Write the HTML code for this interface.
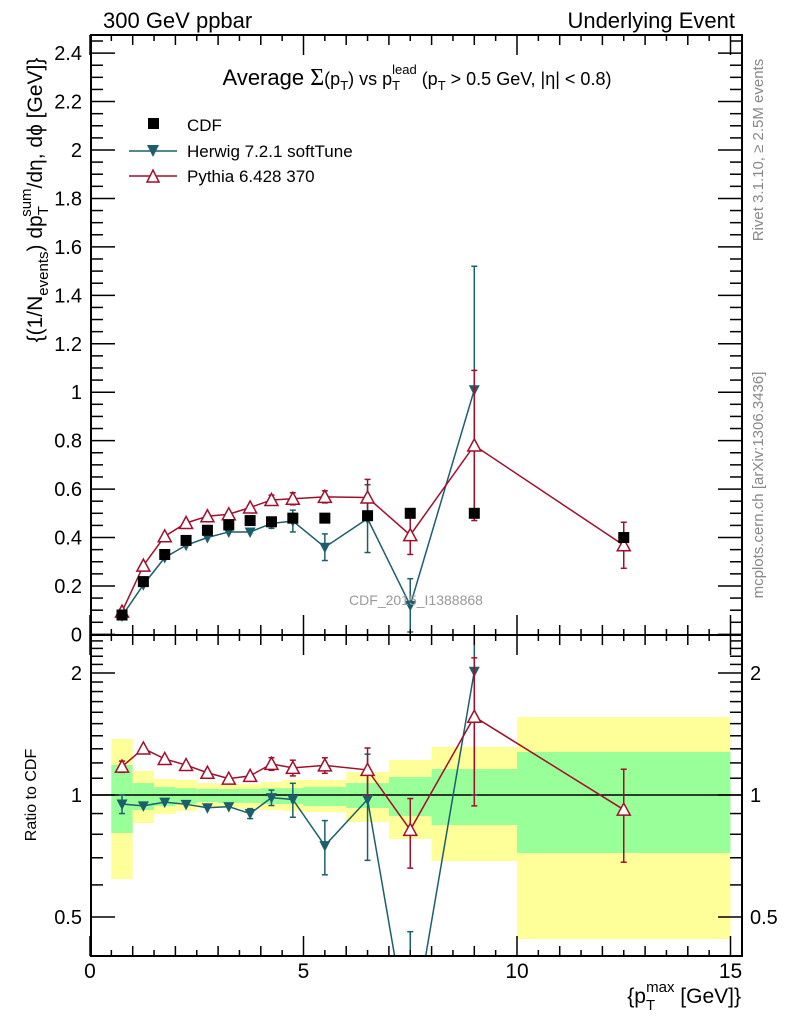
<!DOCTYPE html>
<html><head><meta charset="utf-8"><style>
html,body{margin:0;padding:0;background:#fff;overflow:hidden;width:786px;height:1024px;}
svg{display:block;font-family:"Liberation Sans",sans-serif;}
</style></head><body>
<svg id="chart" width="786" height="1024" viewBox="0 0 786 1024" xmlns="http://www.w3.org/2000/svg">
<g id="bands"></g>
<g id="marks"></g>
<g id="axes"></g>
<text x="103" y="28" font-size="22">300 GeV ppbar</text>
<text x="735" y="28" font-size="22" text-anchor="end">Underlying Event</text>
<text x="417" y="85" font-size="22" text-anchor="middle">Average <tspan font-family="Liberation Serif" font-size="24">Σ</tspan><tspan font-size="18">(p</tspan><tspan font-size="13" dy="5">T</tspan><tspan font-size="18" dy="-5">)</tspan><tspan font-size="18"> vs p</tspan><tspan font-size="13" dy="5">T</tspan><tspan font-size="13" dx="-8" dy="-16">lead</tspan><tspan font-size="18" dy="11"> (p</tspan><tspan font-size="13" dy="5">T</tspan><tspan font-size="18" dy="-5"> &gt; 0.5 GeV, |η| &lt; 0.8)</tspan></text>
<text transform="translate(763,150) rotate(-90)" font-size="15" fill="#888" text-anchor="middle">Rivet 3.1.10, ≥ 2.5M events</text>
<text transform="translate(763,485) rotate(-90)" font-size="15" fill="#888" text-anchor="middle">mcplots.cern.ch [arXiv:1306.3436]</text>
<text x="416" y="605" font-size="14" fill="#999" text-anchor="middle">CDF_2015_I1388868</text>
<text transform="translate(42,200) rotate(-90)" font-size="21" text-anchor="middle">{(1/N<tspan font-size="15" dy="6">events</tspan><tspan dy="-6">) dp</tspan><tspan font-size="15" dy="6">T</tspan><tspan font-size="15" dx="-9" dy="-17">sum</tspan><tspan dy="11">/dη, dϕ [GeV]}</tspan></text>
<text transform="translate(36,795) rotate(-90)" font-size="16" text-anchor="middle">Ratio to CDF</text>
<text x="741" y="1003" font-size="21" text-anchor="end">{p<tspan font-size="15" dy="7">T</tspan><tspan font-size="15" dx="-9" dy="-18">max</tspan><tspan dy="11"> [GeV]}</tspan></text>
<g>
<rect x="148" y="118" width="11" height="11" fill="#000"/>
<text x="187" y="131" font-size="17">CDF</text>
<line x1="129" y1="151" x2="177" y2="151" stroke="#1b5f6c" stroke-width="1.5"/>
<path d="M147,145 L159,145 L153,157 Z" fill="#1b5f6c"/>
<text x="187" y="157" font-size="17">Herwig 7.2.1 softTune</text>
<line x1="129" y1="176" x2="177" y2="176" stroke="#a10f2b" stroke-width="1.5"/>
<path d="M147,182 L159,182 L153,170 Z" fill="#fff" stroke="#a10f2b" stroke-width="1.5"/>
<text x="187" y="182" font-size="17">Pythia 6.428 370</text>
</g>
</svg>
<script>
const xCenters=[0.75,1.25,1.75,2.25,2.75,3.25,3.75,4.25,4.75,5.5,6.5,7.5,9,12.5];
const cdfValues=[0.08,0.218,0.33,0.388,0.43,0.452,0.47,0.465,0.48,0.48,0.49,0.50,0.50,0.40];
const herwigValues=[0.076,0.205,0.317,0.368,0.40,0.423,0.423,0.458,0.468,0.36,0.478,0.12,1.01];
const herwigErrors=[0.004,0.004,0.005,0.006,0.007,0.008,0.012,0.02,0.045,0.055,0.14,0.11,0.51];
const pythiaValues=[0.094,0.284,0.405,0.46,0.488,0.496,0.524,0.555,0.56,0.568,0.565,0.41,0.78,0.368];
const pythiaErrors=[0.003,0.004,0.005,0.006,0.007,0.008,0.01,0.02,0.025,0.025,0.075,0.08,0.31,0.095];
const binEdges=[0.5,1,1.5,2,2.5,3,3.5,4,4.5,5,6,7,8,10,15];
const yellowLo=[0.62,0.853,0.898,0.913,0.929,0.929,0.924,0.918,0.913,0.908,0.858,0.779,0.687,0.441];
const yellowHi=[1.375,1.146,1.095,1.089,1.07,1.064,1.064,1.077,1.089,1.089,1.139,1.22,1.314,1.557];
const greenLo=[0.806,0.918,0.939,0.95,0.961,0.956,0.956,0.95,0.95,0.939,0.929,0.887,0.843,0.719];
const greenHi=[1.186,1.07,1.046,1.04,1.035,1.035,1.035,1.04,1.04,1.046,1.07,1.108,1.159,1.277];
const mainTicks=[0,0.2,0.4,0.6,0.8,1,1.2,1.4,1.6,1.8,2,2.2,2.4];
const mainTickLabels=["0","0.2","0.4","0.6","0.8","1","1.2","1.4","1.6","1.8","2","2.2","2.4"];
const ratioTicks=[0.5,1,2];
const ratioTickLabels=["0.5","1","2"];
const xTicks=[0,5,10,15];
const xTickLabels=["0","5","10","15"];

const NS="http://www.w3.org/2000/svg";
const L=91,R=742,T=35,MB=635,RB=956;
const X=v=>90+v*42.7;
const Y=v=>634.4-v*242.2;
const YR=v=>795-Math.log2(v)*122;
function mk(parent,tag,attrs){const e=document.createElementNS(NS,tag);for(const k in attrs)e.setAttribute(k,attrs[k]);parent.appendChild(e);return e;}
const bands=document.getElementById('bands'),marks=document.getElementById('marks'),axes=document.getElementById('axes');

for(let i=0;i<yellowLo.length;i++){
 const y=mk(bands,'rect',{x:X(binEdges[i]),width:X(binEdges[i+1])-X(binEdges[i]),y:YR(yellowHi[i]),height:YR(yellowLo[i])-YR(yellowHi[i]),fill:'#ffff99'});
 
 
 const g=mk(bands,'rect',{x:X(binEdges[i]),width:X(binEdges[i+1])-X(binEdges[i]),y:YR(greenHi[i]),height:YR(greenLo[i])-YR(greenHi[i]),fill:'#99ff99'});
 
 
}
const unity=mk(bands,'line',{x1:L,x2:R,y1:YR(1),y2:YR(1),stroke:'#000','stroke-width':1.5});



const defs=mk(document.getElementById('chart'),'defs',{});
const c1=mk(defs,'clipPath',{id:'cm'});mk(c1,'rect',{x:L,y:T,width:R-L,height:MB-T});
const c2=mk(defs,'clipPath',{id:'cr'});mk(c2,'rect',{x:L,y:MB,width:R-L,height:RB-MB});

function series(vals,errs,color,type,yf,clip,name,ratio){
 const g=mk(marks,'g',{'clip-path':'url(#'+clip+')'});
 
 
 const pts=vals.map((v,i)=>[X(xCenters[i]),yf(ratio?v/cdfValues[i]:v)]);
 mk(g,'polyline',{points:pts.map(p=>p.join(',')).join(' '),fill:'none',stroke:color,'stroke-width':1.5});
 vals.forEach((v,i)=>{
  const c=ratio?cdfValues[i]:1;
  const e=errs[i];const x=X(xCenters[i]);
  const lo=Math.max(v-e,0.001)/c,hi=(v+e)/c;
  if(yf(lo)-yf(hi)>8){
   mk(g,'line',{x1:x,x2:x,y1:yf(lo),y2:yf(hi),stroke:color,'stroke-width':1.5});
   mk(g,'line',{x1:x-3,x2:x+3,y1:yf(lo),y2:yf(lo),stroke:color,'stroke-width':1.5});
   mk(g,'line',{x1:x-3,x2:x+3,y1:yf(hi),y2:yf(hi),stroke:color,'stroke-width':1.5});
  }
  const y=yf(v/c);
  let m;
  if(type==='down') m=mk(g,'path',{d:`M${x-5.5},${y-4.5} L${x+5.5},${y-4.5} L${x},${y+6} Z`,fill:color});
  else m=mk(g,'path',{d:`M${x-6.5},${y+5.5} L${x+6.5},${y+5.5} L${x},${y-6.5} Z`,fill:'#fff',stroke:color,'stroke-width':1.5});
  
  
 });
}
series(herwigValues,herwigErrors,'#1b5f6c','down',Y,'cm','herwig-series',false);
series(pythiaValues,pythiaErrors,'#a10f2b','up',Y,'cm','pythia-series',false);
cdfValues.forEach((v,i)=>{
 const r=mk(marks,'rect',{x:X(xCenters[i])-5.5,y:Y(v)-5.5,width:11,height:11,fill:'#000'});
 
 
});
series(herwigValues,herwigErrors,'#1b5f6c','down',YR,'cr','herwig-ratio-series',true);
series(pythiaValues,pythiaErrors,'#a10f2b','up',YR,'cr','pythia-ratio-series',true);

[[T,MB],[MB,RB]].forEach(([a,b])=>mk(axes,'rect',{x:L,y:a,width:R-L,height:b-a,fill:'none',stroke:'#000','stroke-width':2}));
for(let k=0;k<=30;k++){
 const v=k/2,x=X(v),len=(k%10===0)?20:(k%2===0?10:6);
 [T,MB,RB].forEach((yy,j)=>{
  if(j===0||j===2) mk(axes,'line',{x1:x,x2:x,y1:yy,y2:yy+(j===0?len:-len),stroke:'#000','stroke-width':1.5});
  else{mk(axes,'line',{x1:x,x2:x,y1:yy,y2:yy-len,stroke:'#000','stroke-width':1.5});mk(axes,'line',{x1:x,x2:x,y1:yy,y2:yy+len,stroke:'#000','stroke-width':1.5});}
 });
}
xTicks.forEach((v,i)=>{const t=mk(axes,'text',{x:X(v),y:978,'font-size':21,'text-anchor':'middle'});t.textContent=xTickLabels[i];
 
 });
for(let k=0;k<=49;k++){
 const v=k*0.05,y=Y(v);if(y<T)break;const len=k%4===0?24:12;
 mk(axes,'line',{x1:L,x2:L+len,y1:y,y2:y,stroke:'#000','stroke-width':1.5});
 mk(axes,'line',{x1:R,x2:R-len,y1:y,y2:y,stroke:'#000','stroke-width':1.5});
}
mainTicks.forEach((v,i)=>{const t=mk(axes,'text',{x:82,y:Y(v)+7,'font-size':20,'text-anchor':'end'});t.textContent=mainTickLabels[i];
 
 });
for(let k=4;k<=24;k++){
 const v=k/10,y=YR(v);if(y<MB||y>RB)continue;const len=(k===5||k===10||k===20)?24:12;
 mk(axes,'line',{x1:L,x2:L+len,y1:y,y2:y,stroke:'#000','stroke-width':1.5});
 mk(axes,'line',{x1:R,x2:R-len,y1:y,y2:y,stroke:'#000','stroke-width':1.5});
}
ratioTicks.forEach((v,i)=>{
 const t=mk(axes,'text',{x:82,y:YR(v)+7,'font-size':20,'text-anchor':'end'});t.textContent=ratioTickLabels[i];
 
 
 const t2=mk(axes,'text',{x:750,y:YR(v)+7,'font-size':20});t2.textContent=ratioTickLabels[i];
 
 
});
</script>
</body></html>
